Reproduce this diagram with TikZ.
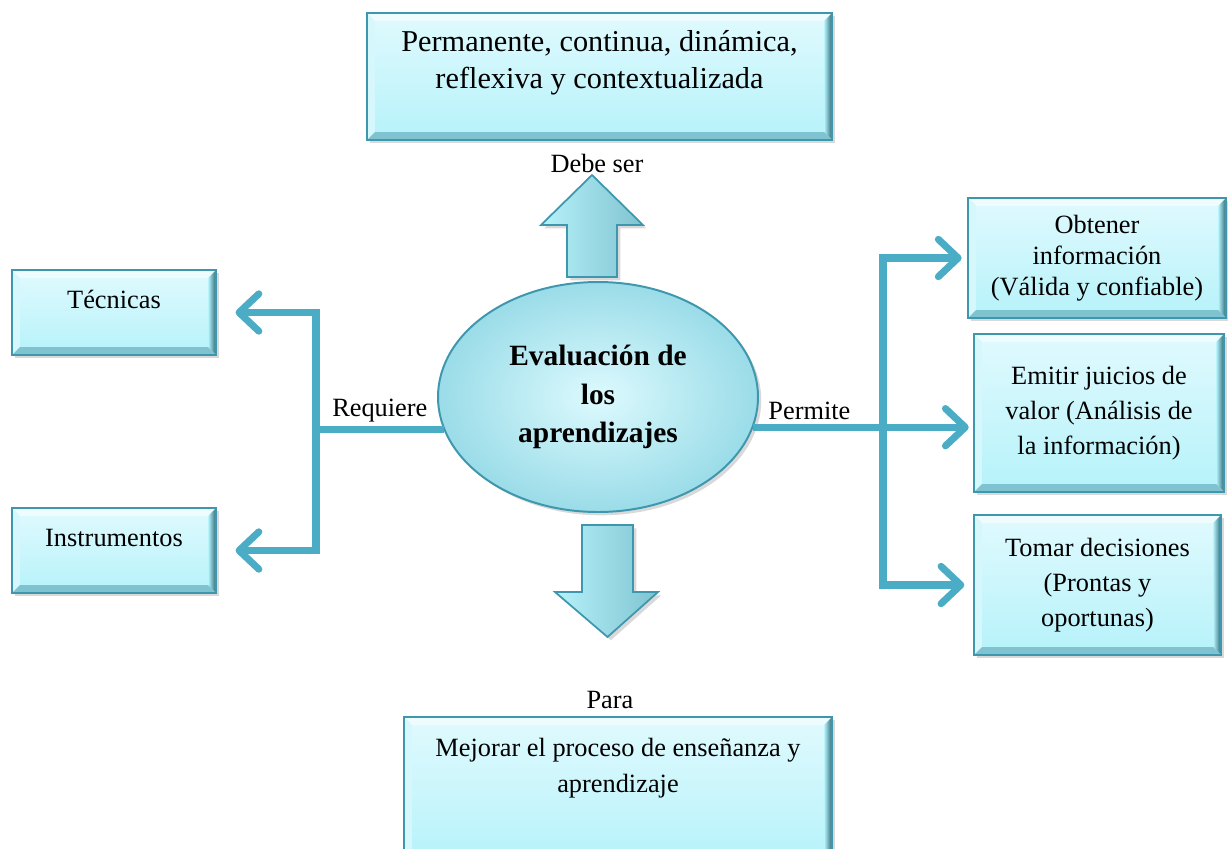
\documentclass[tikz,border=0pt]{standalone}
\usepackage{fontspec}
\setmainfont{Liberation Serif}
\usetikzlibrary{arrows.meta,shapes.geometric,shadows,positioning}

\definecolor{aqua}{HTML}{4BACC6}
\definecolor{edge}{HTML}{3F97AE}
\definecolor{boxtop}{HTML}{E0FAFE}
\definecolor{boxbot}{HTML}{B6F2FA}
\definecolor{bevlight}{HTML}{D6F7FB}
\definecolor{bevmid}{HTML}{7FC3D0}
\definecolor{bevdark}{HTML}{2D6B7B}
\definecolor{elin}{HTML}{DDFAFE}
\definecolor{elout}{HTML}{9ADCE8}

\def\px{0.016cm}

\tikzset{
  txt/.style={align=center, inner sep=0pt, font=\fontsize{12}{16.5}\selectfont},
  lbl/.style={font=\fontsize{12}{14}\selectfont},
  box/.style={draw=edge, line width=0.8pt, top color=boxtop, bottom color=boxbot,
    drop shadow={opacity=0.3, shadow xshift=1.5pt, shadow yshift=-1.5pt},
    path picture={
      \coordinate (nw) at (path picture bounding box.north west);
      \coordinate (se) at (path picture bounding box.south east);
      % bevel edges
      \fill[white, opacity=0.5] (nw) -- (nw -| se) -- ++(-3.6pt,-3.6pt) -- ([shift={(3.6pt,-3.6pt)}]nw) -- cycle;
      \fill[bevlight] (nw) -- ([shift={(3.6pt,-3.6pt)}]nw) -- ([shift={(3.6pt,3.6pt)}]nw |- se) -- (nw |- se) -- cycle;
      \shade[left color=boxbot, right color=bevdark] (se) -- (nw -| se) -- ++(-3.6pt,-3.6pt) -- ([shift={(-3.6pt,3.6pt)}]se) -- cycle;
      \fill[bevmid] (se) -- (nw |- se) -- ++(3.6pt,3.6pt) -- ([shift={(-3.6pt,3.6pt)}]se) -- cycle;
    }},
  bubble/.style={ellipse, draw=edge, line width=0.9pt, inner sep=0pt,
    inner color=elin, outer color=elout,
    drop shadow={opacity=0.3, shadow xshift=1.5pt, shadow yshift=-1.5pt},
    font=\fontsize{13.4}{17.7}\selectfont\bfseries, align=center},
  blockarrow/.style={draw=edge, line width=0.8pt,
    left color=boxbot, middle color=boxtop, right color=bevmid,
    drop shadow={opacity=0.3, shadow xshift=1.5pt, shadow yshift=-1.5pt}},
  conn/.style={draw=aqua, line width=3.2pt},
  arr/.style={-{Straight Barb[length=9pt, width=17pt, round]}}
}

\begin{document}
\begin{tikzpicture}[x=\px, y=-\px]
  \useasboundingbox (0,0) rectangle (1228,848);

  % boxes
  \node[box, minimum width=465*\px, minimum height=127*\px] (perm) at (599.5,76.5) {};
  \node[txt, font=\fontsize{13.8}{16.8}\selectfont, yshift=14*\px] (permtxt) at (perm) {Permanente, continua, dinámica,\\reflexiva y contextualizada};

  \node[box, minimum width=204*\px, minimum height=85*\px] (tec) at (114,312.5) {};
  \node[txt, yshift=13*\px] (tectxt) at (tec) {Técnicas};

  \node[box, minimum width=204*\px, minimum height=85*\px] (ins) at (114,550.5) {};
  \node[txt, yshift=13*\px] (instxt) at (ins) {Instrumentos};

  \node[box, minimum width=258*\px, minimum height=120*\px] (obt) at (1097,258) {};
  \node[txt, font=\fontsize{12}{14}\selectfont] (obttxt) at (obt) {Obtener\\información\\(Válida y confiable)};

  \node[box, minimum width=250*\px, minimum height=158*\px] (emi) at (1099,413) {};
  \node[txt, font=\fontsize{12}{15.9}\selectfont] (emitxt) at (emi) {Emitir juicios de\\valor (Análisis de\\la información)};

  \node[box, minimum width=247*\px, minimum height=140*\px] (tom) at (1097.5,585) {};
  \node[txt, font=\fontsize{12}{15.9}\selectfont] (tomtxt) at (tom) {Tomar decisiones\\(Prontas y\\oportunas)};

  \node[box, minimum width=428*\px, minimum height=146*\px] (mej) at (618,790) {};
  \node[txt, yshift=22*\px] (mejtxt) at (mej) {Mejorar el proceso de enseñanza y\\aprendizaje};

  % centre
  \node[bubble, minimum width=320*\px, minimum height=230*\px] (eval) at (598,397) {Evaluación de\\los\\aprendizajes};

  % block arrows
  \path[blockarrow] (567,277) -- (617,277) -- (617,225) -- (643,225) -- (592,175) -- (541,225) -- (567,225) -- cycle;
  \path[blockarrow] (582,525) -- (633,525) -- (633,592) -- (658,592) -- (607.5,637) -- (555,592) -- (582,592) -- cycle;
  \node[lbl] (debe) at (597,163) {Debe ser};
  \node[lbl] (para) at (610,700) {Para};

  % connectors
  \coordinate (lj) at (eval.192.5 -| 316,0);
  \coordinate (rj) at (eval.-11.5 -| 883,0);
  \draw[conn] (eval.192.5) -- node[lbl, above, yshift=-1.5pt] (req) {Requiere} (lj);
  \draw[conn, arr, shorten >=8.5pt] (lj) |- (tec.east);
  \draw[conn, arr, shorten >=8.5pt] (lj) |- (ins.east);
  \draw[conn] (eval.-11.5) -- node[lbl, above, yshift=-1.5pt, xshift=-4pt] (permite) {Permite} (rj);
  \draw[conn, arr, shorten >=2.5pt] (rj) |- (obt.west);
  \draw[conn, arr, shorten >=2pt] (rj) -- (rj -| emi.west);
  \draw[conn, arr, shorten >=4pt] (rj) |- (tom.west);
\end{tikzpicture}
\end{document}
